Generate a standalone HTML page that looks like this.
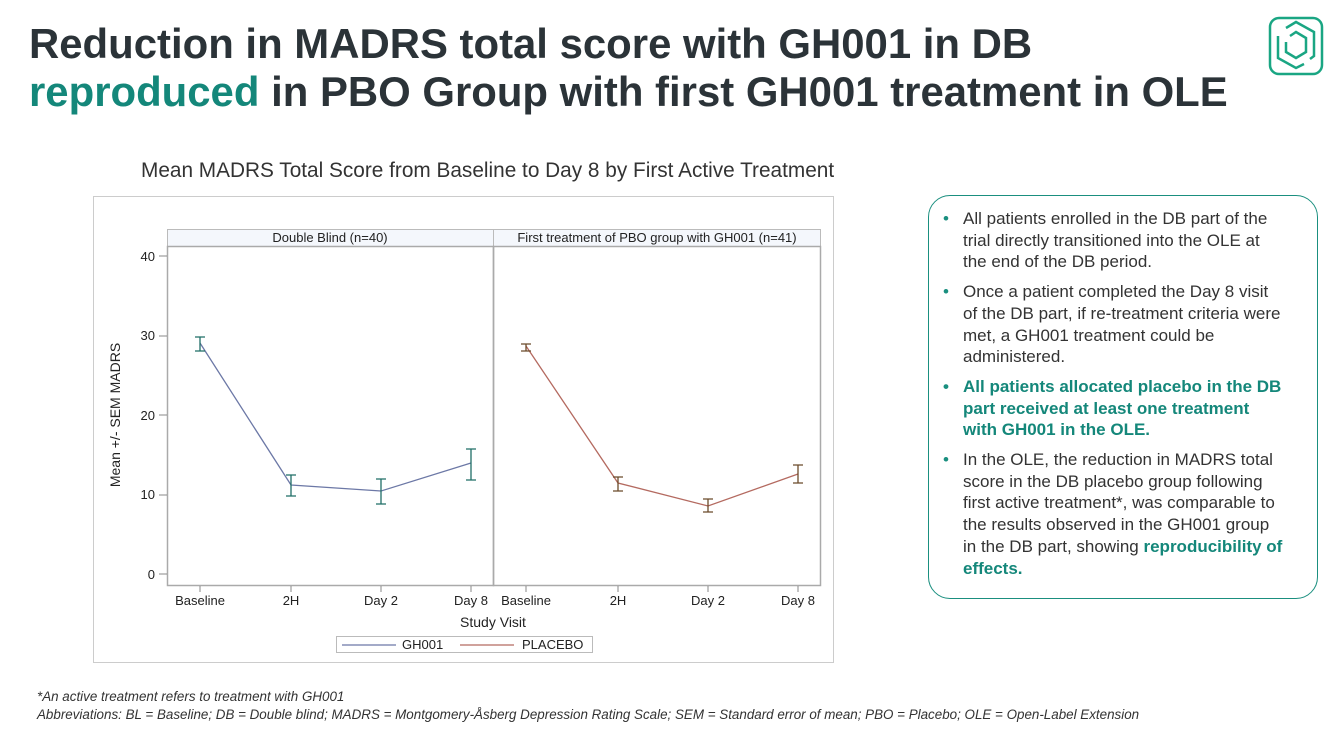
<!DOCTYPE html>
<html><head><meta charset="utf-8"><style>
body{margin:0;width:1340px;height:731px;background:#fff;font-family:"Liberation Sans",sans-serif;position:relative;overflow:hidden}
h1{position:absolute;left:29px;top:20px;margin:0;font-size:41.9px;line-height:48px;font-weight:bold;color:#2b3338;white-space:nowrap}
.t{color:#14877a}
.box{position:absolute;left:928px;top:195px;width:390px;height:404px;border:1.3px solid #1a8f7f;border-radius:22px;box-sizing:border-box}
.box ul{margin:0;padding:12px 34px 0 34px;list-style:none}
.box li{position:relative;font-size:17px;line-height:21.7px;color:#333;margin-bottom:8px}
.box li:before{content:"•";position:absolute;left:-20px;color:#1a8f7f}
.b,.box li.b{color:#14877a;font-weight:bold}
.foot{position:absolute;left:37px;top:688px;font-size:13.4px;font-style:italic;color:#333;line-height:18px;white-space:nowrap}
</style></head><body>
<h1>Reduction in MADRS total score with GH001 in DB<br><span class="t">reproduced</span> in PBO Group with first GH001 treatment in OLE</h1>
<svg style="position:absolute;left:1266px;top:14px" width="60" height="62" viewBox="0 0 60 62"><g fill="none" stroke="#1aa683" stroke-width="2.5"><rect x="4" y="4" width="52" height="56" rx="9"/><path d="M20 14 L30 8 L48 18 L48 42 L44 45"/><path d="M38 50 L30 54 L12 44 L12 22"/><path d="M24 22 L30 18 L40 24 L40 38 L30 44 L20 38 L20 28"/></g></svg>
<div style="position:absolute;left:141px;top:159px;font-size:20.8px;color:#333;white-space:nowrap">Mean MADRS Total Score from Baseline to Day 8 by First Active Treatment</div>
<svg style="position:absolute;left:0;top:0" width="900" height="731" font-family="Liberation Sans, sans-serif">
<rect x="93.5" y="196.5" width="740" height="466" fill="#fff" stroke="#ccc"/>
<rect x="167.5" y="229.5" width="326" height="17" fill="#f4f7fc" stroke="#bbb"/>
<rect x="493.5" y="229.5" width="327" height="17" fill="#f4f7fc" stroke="#bbb"/>
<text x="330" y="242" font-size="13" text-anchor="middle" fill="#222">Double Blind (n=40)</text>
<text x="657" y="242" font-size="13" text-anchor="middle" fill="#222">First treatment of PBO group with GH001 (n=41)</text>
<rect x="167.5" y="246.5" width="326" height="339" fill="none" stroke="#aaa" stroke-width="1.5"/>
<rect x="493.5" y="246.5" width="327" height="339" fill="none" stroke="#aaa" stroke-width="1.5"/>
<g font-size="13" fill="#222" text-anchor="end">
<text x="155" y="261">40</text><text x="155" y="340">30</text><text x="155" y="420">20</text><text x="155" y="499">10</text><text x="155" y="579">0</text></g>
<g stroke="#888"><line x1="159" x2="167" y1="256" y2="256"/><line x1="159" x2="167" y1="336" y2="336"/><line x1="159" x2="167" y1="415" y2="415"/><line x1="159" x2="167" y1="495" y2="495"/><line x1="159" x2="167" y1="574" y2="574"/>
<line x1="200" x2="200" y1="586" y2="592"/><line x1="291" x2="291" y1="586" y2="592"/><line x1="381" x2="381" y1="586" y2="592"/><line x1="471" x2="471" y1="586" y2="592"/>
<line x1="526" x2="526" y1="586" y2="592"/><line x1="618" x2="618" y1="586" y2="592"/><line x1="708" x2="708" y1="586" y2="592"/><line x1="798" x2="798" y1="586" y2="592"/></g>
<g font-size="13" fill="#222" text-anchor="middle">
<text x="200" y="605">Baseline</text><text x="291" y="605">2H</text><text x="381" y="605">Day 2</text><text x="471" y="605">Day 8</text>
<text x="526" y="605">Baseline</text><text x="618" y="605">2H</text><text x="708" y="605">Day 2</text><text x="798" y="605">Day 8</text>
<text x="493" y="627" font-size="14">Study Visit</text></g>
<text transform="translate(120,415) rotate(-90)" font-size="14" text-anchor="middle" fill="#222">Mean +/- SEM MADRS</text>
<polyline points="200,343 291,485 381,491 471,463" fill="none" stroke="#6c78a6" stroke-width="1.3"/>
<g stroke="#1f6e66" stroke-width="1.3" fill="none">
<path d="M200 337V351M195 337h10M195 351h10"/><path d="M291 475V496M286 475h10M286 496h10"/><path d="M381 479V504M376 479h10M376 504h10"/><path d="M471 449V480M466 449h10M466 480h10"/></g>
<polyline points="526,346 618,483 708,506 798,474" fill="none" stroke="#b46a60" stroke-width="1.3"/>
<g stroke="#6b4a2a" stroke-width="1.3" fill="none">
<path d="M526 344V351M521 344h10M521 351h10"/><path d="M618 477V491M613 477h10M613 491h10"/><path d="M708 499V512M703 499h10M703 512h10"/><path d="M798 465V483M793 465h10M793 483h10"/></g>
<rect x="336.5" y="636.5" width="256" height="16" fill="#fff" stroke="#bbb"/>
<line x1="342" x2="396" y1="645" y2="645" stroke="#6c78a6" stroke-width="1.3"/>
<text x="402" y="649" font-size="13" fill="#222">GH001</text>
<line x1="460" x2="514" y1="645" y2="645" stroke="#b46a60" stroke-width="1.3"/>
<text x="522" y="649" font-size="13" fill="#222">PLACEBO</text>
</svg>
<div class="box"><ul>
<li>All patients enrolled in the DB part of the trial directly transitioned into the OLE at the end of the DB period.</li>
<li>Once a patient completed the Day 8 visit of the DB part, if re-treatment criteria were met, a GH001 treatment could be administered.</li>
<li class="b">All patients allocated placebo in the DB part received at least one treatment with GH001 in the OLE.</li>
<li>In the OLE, the reduction in MADRS total score in the DB placebo group following first active treatment*, was comparable to the results observed in the GH001 group in the DB part, showing <span class="b">reproducibility of effects.</span></li>
</ul></div>
<div class="foot">*An active treatment refers to treatment with GH001<br>Abbreviations: BL = Baseline; DB = Double blind; MADRS = Montgomery-Åsberg Depression Rating Scale; SEM = Standard error of mean; PBO = Placebo; OLE = Open-Label Extension</div>
</body></html>
